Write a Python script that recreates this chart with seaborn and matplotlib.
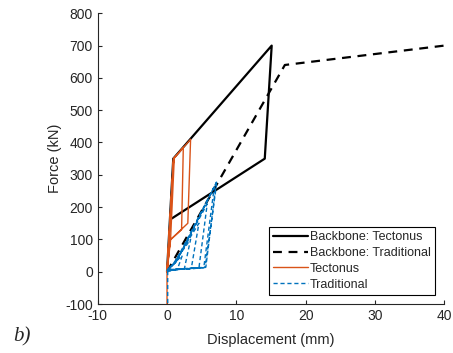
import matplotlib
matplotlib.use("Agg")
import matplotlib.pyplot as plt
import seaborn as sns
import pandas as pd

# Backbone curves
bb_tect_x = [0.0, 0.9, 15.1, 14.1, 0.7]
bb_tect_y = [0, 350, 700, 350, 165]
bb_trad_x = [0.0, 17.0, 40.0]
bb_trad_y = [0, 640, 700]

# Tectonus hysteresis (flag-shaped loops)
tect_x = [0, 0.95, 1.05, 0.5, 0, 0.95, 2.35, 2.1, 0.45, 0, 0.95, 3.4, 3.0, 0.45, 0, 0.0]
tect_y = [0, 350, 352, 95, 0, 350, 385, 130, 98, 0, 350, 410, 150, 98, 0, -300]

# Traditional hysteresis (pinched loops)
trad_x = [0, 1.5, 2.2, 0.6, 0.05, 2.5, 3.4, 0.8, 0.05, 3.5, 4.6, 1.0, 0.05,
          4.6, 5.8, 1.2, 0.05, 5.3, 6.8, 1.3, 0.05, 5.5, 7.2, 1.4, 0.05,
          5.6, 7.1, 1.2, 0.1, 0.1]
trad_y = [0, 8, 50, 18, 3, 9, 100, 22, 4, 10, 150, 25, 5,
          11, 210, 28, 5, 12, 260, 30, 6, 13, 280, 32, 6,
          14, 275, 30, 5, -300]

W, H = 453, 353
sns.set_style("ticks")
plt.rcParams['font.family'] = ['Liberation Sans', 'DejaVu Sans']
plt.rcParams['xtick.direction'] = 'in'
plt.rcParams['ytick.direction'] = 'in'
plt.rcParams['axes.unicode_minus'] = False

fig = plt.figure(figsize=(W / 100, H / 100), dpi=100)
ax = fig.add_axes([97.7 / W, (H - 304) / H, (444.3 - 97.7) / W, (304 - 13.3) / H])

def df(x, y):
    return pd.DataFrame({"x": x, "y": y, "i": range(len(x))})

sns.lineplot(data=df(bb_tect_x, bb_tect_y), x="x", y="y", sort=False, estimator=None,
             color="black", linewidth=1.6, ax=ax, label="Backbone: Tectonus")
sns.lineplot(data=df(bb_trad_x, bb_trad_y), x="x", y="y", sort=False, estimator=None,
             color="black", linewidth=1.6, ax=ax, label="Backbone: Traditional")
ax.lines[-1].set_linestyle((0, (4, 3)))
sns.lineplot(data=df(tect_x, tect_y), x="x", y="y", sort=False, estimator=None,
             color="#D95319", linewidth=1.0, ax=ax, label="Tectonus")
sns.lineplot(data=df(trad_x, trad_y), x="x", y="y", sort=False, estimator=None,
             color="#0072BD", linewidth=1.0, ax=ax, label="Traditional")
ax.lines[-1].set_linestyle((0, (3, 2)))

ax.set_xlim(-10, 40)
ax.set_ylim(-100, 800)
ax.set_xticks(range(-10, 41, 10))
ax.set_yticks(range(-100, 801, 100))
ax.tick_params(labelsize=10, colors="#262626", length=3, width=0.8)
for s in ["left", "bottom"]:
    ax.spines[s].set_color("#262626")
    ax.spines[s].set_linewidth(0.8)
sns.despine(ax=ax)
ax.set_xlabel("Displacement (mm)", fontsize=10.5, color="#262626", labelpad=7)
ax.set_ylabel("Force (kN)", fontsize=10.5, color="#262626", labelpad=2)

leg = ax.legend(loc="lower right", bbox_to_anchor=(0.973, 0.031), fontsize=9,
                frameon=True, fancybox=False, framealpha=1, edgecolor="black",
                handlelength=2.8, handletextpad=0.1, borderpad=0.35, labelspacing=0.3,
                borderaxespad=0)
leg.get_frame().set_linewidth(0.8)
handles = leg.legend_handles if hasattr(leg, "legend_handles") else leg.legendHandles
handles[1].set_linestyle((0, (4, 3)))
handles[3].set_linestyle((0, (3, 2)))

fig.text(13 / W, 1 - 337 / H, "b)", fontsize=15, style="italic",
         family=["Liberation Serif", "DejaVu Serif"], va="center", ha="left")

fig.savefig("out.png", dpi=100)
